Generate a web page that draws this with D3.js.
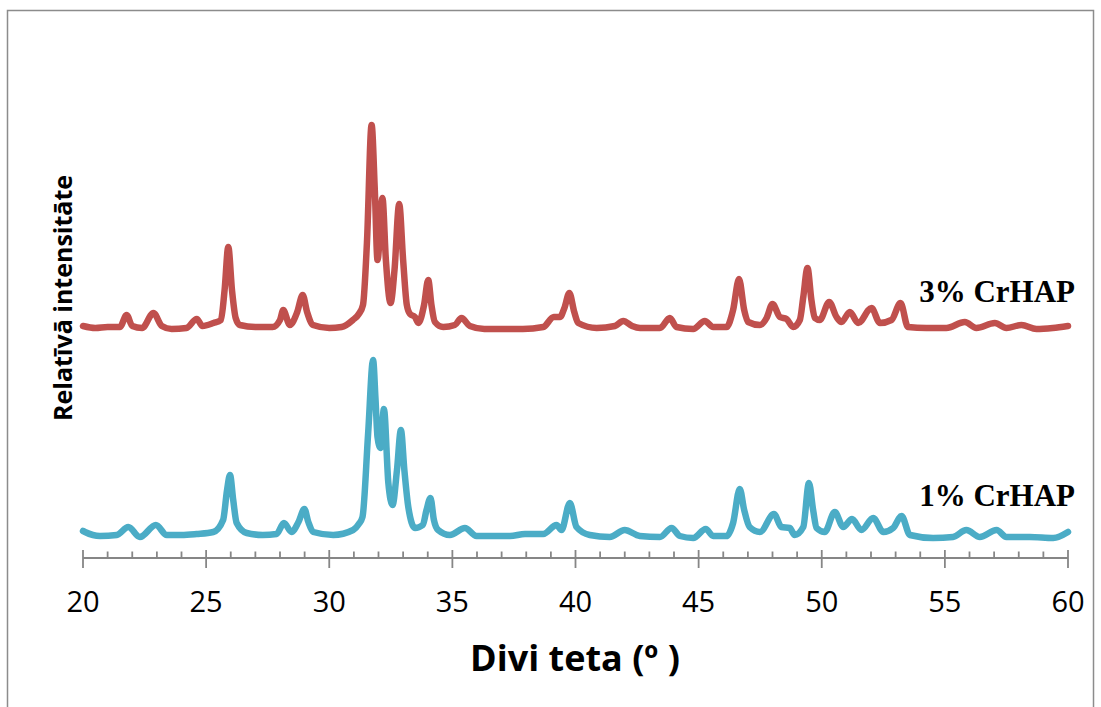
<!DOCTYPE html>
<html>
<head>
  <meta charset="utf-8">
  <title>XRD CrHAP</title>
  <style>
  body { margin: 0px; background: #fff; }
  .frame { fill: none; stroke: #8c8c8c; stroke-width: 1.5px; }
  .axis-line { stroke: #868686; stroke-width: 1.8px; }
  .trace { fill: none; stroke-width: 6.5px; stroke-linejoin: round; stroke-linecap: round; }
  </style>
</head>
<body>
  <svg width="1101" height="707"></svg>
  <script src="https://d3js.org/d3.v7.min.js"></script>
  <script>
  // 2-theta positions and intensities (a.u.)
  var theta3 = [20.0, 20.5, 21.0, 21.5, 21.77, 22.0, 22.4, 22.86, 23.2, 23.6, 24.2, 24.62, 24.85, 25.3, 25.6, 25.75, 25.9, 26.05, 26.2, 26.37,
    27.0, 27.7, 28.0, 28.13, 28.4, 28.7, 28.92, 29.1, 29.34, 30.0, 30.5, 30.96, 31.2, 31.37, 31.53, 31.72, 31.85, 31.96, 32.16, 32.3,
    32.49, 32.65, 32.84, 33.0, 33.15, 33.28, 33.48, 33.62, 33.85, 34.02, 34.15, 34.29, 34.63, 35.1, 35.37, 35.71, 36.3, 37.0, 37.86, 38.69,
    39.12, 39.37, 39.55, 39.75, 39.95, 40.11, 40.86, 41.6, 41.94, 42.3, 42.62, 43.43, 43.83, 44.1, 44.78, 45.25, 45.59, 46.13, 46.4, 46.64,
    46.85, 47.01, 47.49, 47.76, 48.0, 48.3, 48.57, 48.84, 49.11, 49.25, 49.42, 49.58, 49.72, 49.92, 50.3, 50.6, 50.8, 51.14, 51.48, 52.02,
    52.36, 52.83, 53.2, 53.5, 54.25, 55.06, 55.81, 56.28, 57.03, 57.5, 58.11, 58.72, 59.38, 60.0];
  var int3 = [232, 230, 231, 231, 243, 232, 230, 245, 232, 229, 230, 239, 232, 235, 238, 268, 311, 268, 240, 233,
    231, 231, 238, 248, 233, 246, 263, 246, 233, 230, 231, 238, 244, 253, 315, 433, 368, 298, 360, 298,
    255, 288, 354, 298, 253, 244, 241, 235, 253, 278, 253, 236, 231, 233, 240, 232, 229, 229, 229, 231,
    241, 241, 250, 265, 246, 235, 230, 232, 237, 232, 230, 230, 240, 231, 229, 237, 231, 231, 248, 279,
    248, 236, 233, 240, 254, 241, 239, 231, 238, 261, 290, 258, 240, 238, 256, 241, 236, 246, 235, 250,
    235, 238, 255, 231, 230, 230, 236, 230, 235, 230, 233, 229, 230, 232];

  var theta1 = [20.0, 20.08, 20.69, 21.37, 21.84, 22.31, 22.96, 23.4, 24.0, 24.61, 25.29, 25.69, 25.85, 25.97, 26.1, 26.24, 26.65, 27.3, 27.86, 28.16,
    28.47, 28.75, 28.99, 29.15, 29.35, 30.16, 30.97, 31.2, 31.35, 31.58, 31.78, 31.88, 31.96, 32.08, 32.22, 32.4, 32.57, 32.75, 32.91, 33.05,
    33.21, 33.48, 33.8, 33.95, 34.11, 34.25, 34.42, 34.9, 35.51, 35.98, 36.6, 37.34, 37.95, 38.69, 39.23, 39.43, 39.77, 40.04, 40.58, 41.39,
    42.0, 42.61, 43.43, 43.9, 44.24, 44.78, 45.29, 45.59, 46.13, 46.4, 46.67, 46.85, 47.07, 47.49, 48.06, 48.36, 48.7, 48.9, 49.25, 49.48,
    49.65, 49.79, 50.12, 50.53, 50.87, 51.23, 51.61, 52.09, 52.5, 52.9, 53.24, 53.58, 54.52, 55.33, 55.87, 56.42, 57.1, 57.5, 58.45, 59.4, 60.0];
  var int1 = [27, 26, 22, 23, 31, 21, 33, 23, 23, 24, 26, 38, 68, 83, 58, 35, 25, 23, 24, 35,
    26, 36, 49, 36, 26, 23, 28, 34, 41, 125, 198, 158, 121, 110, 149, 75, 53, 88, 128, 88,
    51, 30, 33, 48, 60, 38, 28, 23, 30, 22, 22, 22, 24, 24, 33, 28, 55, 31, 23, 21,
    28, 22, 21, 30, 22, 20, 29, 22, 22, 35, 69, 48, 31, 26, 44, 31, 30, 23, 31, 75,
    48, 30, 26, 46, 31, 39, 28, 40, 26, 30, 42, 23, 20, 21, 28, 21, 28, 21, 21, 20, 26];

  var xTicks = [20, 25, 30, 35, 40, 45, 50, 55, 60];
  var seriesNames = ["3% CrHAP", "1% CrHAP"];
  var seriesColors = ["#c0504d", "#4bacc6"];

  var svg = d3.select("svg");

  svg.append("rect").attr("class", "frame")
    .attr("x", 7.5).attr("y", 10.5).attr("width", 1086).attr("height", 720);

  var x = d3.scaleLinear().domain([20, 60]).range([83, 1068]);
  var y = d3.scaleLinear().domain([0, 500]).range([558, 58]);

  var line = d3.line()
    .x(function(d) { return x(d[0]); })
    .y(function(d) { return y(d[1]); })
    .curve(d3.curveMonotoneX);

  var data3 = theta3.map(function(t, i) { return [t, int3[i]]; });
  var data1 = theta1.map(function(t, i) { return [t, int1[i]]; });

  svg.append("path").attr("class", "trace")
    .attr("stroke", seriesColors[0]).attr("d", line(data3));
  svg.append("path").attr("class", "trace")
    .attr("stroke", seriesColors[1]).attr("d", line(data1));

  // x axis: major ticks cross, minor ticks inside
  var axisY = y(0);
  svg.append("line").attr("class", "axis-line")
    .attr("x1", x(20)).attr("x2", x(60)).attr("y1", axisY).attr("y2", axisY);

  svg.selectAll(".minor")
    .data(d3.range(20, 61, 1).filter(function(d) { return d % 5 != 0; }))
    .enter().append("line").attr("class", "axis-line")
    .attr("x1", function(d) { return x(d); }).attr("x2", function(d) { return x(d); })
    .attr("y1", axisY - 6.5).attr("y2", axisY);

  svg.selectAll(".major")
    .data(xTicks)
    .enter().append("line").attr("class", "axis-line")
    .attr("x1", function(d) { return x(d); }).attr("x2", function(d) { return x(d); })
    .attr("y1", axisY - 8).attr("y2", axisY + 10);

  svg.selectAll(".tick-label")
    .data(xTicks)
    .enter().append("text")
    .attr("x", function(d) { return x(d); })
    .attr("y", axisY + 54)
    .style("text-anchor", "middle")
    .attr("font-family", "'Open Sans', sans-serif")
    .attr("font-size", "29px")
    .attr("fill", "#000")
    .text(function(d) { return d; });

  svg.append("text")
    .attr("x", 575).attr("y", 671)
    .style("text-anchor", "middle")
    .attr("font-family", "'Open Sans', sans-serif")
    .attr("font-weight", "bold")
    .attr("font-size", "36px")
    .text("Divi teta (º )");

  svg.append("text")
    .attr("transform", "translate(72,298) rotate(-90)")
    .style("text-anchor", "middle")
    .attr("font-family", "'Open Sans', sans-serif")
    .attr("font-weight", "bold")
    .attr("font-size", "25px")
    .text("Relatīvā intensitāte");

  svg.append("text")
    .attr("x", 1075).attr("y", 302)
    .style("text-anchor", "end")
    .attr("font-family", "'Liberation Serif', serif")
    .attr("font-weight", "bold")
    .attr("font-size", "31px")
    .text(seriesNames[0]);

  svg.append("text")
    .attr("x", 1075).attr("y", 506)
    .style("text-anchor", "end")
    .attr("font-family", "'Liberation Serif', serif")
    .attr("font-weight", "bold")
    .attr("font-size", "31px")
    .text(seriesNames[1]);
  </script>
</body>
</html>
